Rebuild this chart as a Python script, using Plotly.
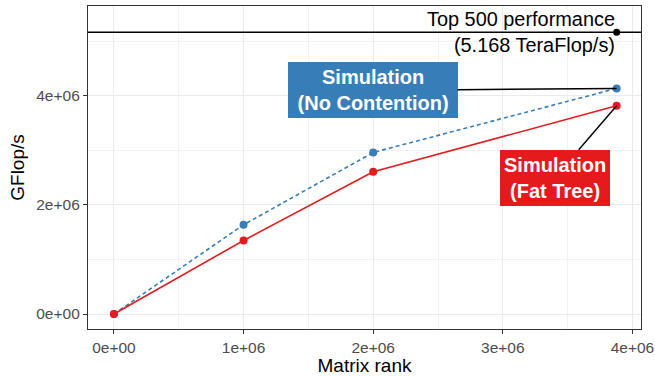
import plotly.graph_objects as go

# HPL runs: matrix rank vs. achieved performance
matrix_rank = [0, 1.0e6, 2.0e6, 3.878e6]
gflops_no_contention = [0, 1.637e6, 2.963e6, 4.138e6]
gflops_fat_tree = [0, 1.349e6, 2.609e6, 3.82e6]

top500_gflops = 5.168e6
top500_rank = 3.878e6

x_ticks = [0, 1e6, 2e6, 3e6, 4e6]
x_tick_labels = ["0e+00", "1e+06", "2e+06", "3e+06", "4e+06"]
y_ticks = [0, 2e6, 4e6]
y_tick_labels = ["0e+00", "2e+06", "4e+06"]

BLUE = "#377EB8"
RED = "#E41A1C"
FONT = "Liberation Sans, Arial, Helvetica, sans-serif"

fig = go.Figure()

fig.add_trace(go.Scatter(
    x=matrix_rank, y=gflops_no_contention, mode="lines+markers",
    line=dict(color=BLUE, width=1.6, dash="4px,3px"),
    marker=dict(color=BLUE, size=8), name="No Contention",
))
fig.add_trace(go.Scatter(
    x=matrix_rank, y=gflops_fat_tree, mode="lines+markers",
    line=dict(color=RED, width=1.6),
    marker=dict(color=RED, size=8), name="Fat Tree",
))

# Top 500 reference level
fig.add_hline(y=top500_gflops, line=dict(color="black", width=1.4), layer="above")
fig.add_trace(go.Scatter(
    x=[top500_rank], y=[top500_gflops], mode="markers",
    marker=dict(color="black", size=7), name="Top 500",
))

fig.add_annotation(
    x=top500_rank, y=top500_gflops, xref="x", yref="y",
    text="Top 500 performance<br>(5.168 TeraFlop/s)",
    showarrow=False, xanchor="right", yanchor="middle", align="right",
    font=dict(family=FONT, size=19.9, color="black"),
)

# Series labels with leader lines to the last point
fig.add_annotation(
    x=matrix_rank[-1], y=gflops_no_contention[-1], xref="x", yref="y",
    text="&nbsp;Simulation&nbsp;<br>&nbsp;(No Contention)&nbsp;",
    showarrow=True, arrowhead=0, arrowwidth=1.4, arrowcolor="black",
    ax=-244, ay=2, standoff=0,
    bgcolor=BLUE, borderpad=4, borderwidth=0,
    font=dict(family=FONT, size=20, color="white", weight="bold"),
)
fig.add_annotation(
    x=matrix_rank[-1], y=gflops_fat_tree[-1], xref="x", yref="y",
    text="Simulation<br>(Fat Tree)",
    showarrow=True, arrowhead=0, arrowwidth=1.4, arrowcolor="black",
    ax=-62, ay=72, standoff=0,
    bgcolor=RED, borderpad=4, borderwidth=0,
    font=dict(family=FONT, size=20, color="white", weight="bold"),
)

axis_common = dict(
    showgrid=True, gridcolor="#EBEBEB", gridwidth=1.2,
    zeroline=False, showline=True, linecolor="#333333", linewidth=1.2,
    mirror=True, ticks="outside", ticklen=4, tickcolor="#333333", tickwidth=1.1,
    tickfont=dict(family=FONT, size=15.5, color="#4D4D4D"),
    automargin=False,
)

fig.update_xaxes(
    range=[-0.2e6, 4.066e6], tickvals=x_ticks, ticktext=x_tick_labels,
    minor=dict(showgrid=True, gridcolor="#F2F2F2", gridwidth=0.8, dtick=0.5e6, tick0=0),
    title=dict(text="Matrix rank", font=dict(family=FONT, size=19, color="black"), standoff=3),
    **axis_common,
)
fig.update_yaxes(
    range=[-0.275e6, 5.65e6], tickvals=y_ticks, ticktext=y_tick_labels,
    minor=dict(showgrid=True, gridcolor="#F2F2F2", gridwidth=0.8, dtick=1e6, tick0=0),
    title=dict(text="GFlop/s", font=dict(family=FONT, size=19, color="black"), standoff=6),
    **axis_common,
)

fig.update_layout(
    width=655, height=376,
    margin=dict(l=88, r=14, t=6, b=47),
    paper_bgcolor="white", plot_bgcolor="white",
    showlegend=False,
    font=dict(family=FONT),
)

fig.write_html("out.html")
